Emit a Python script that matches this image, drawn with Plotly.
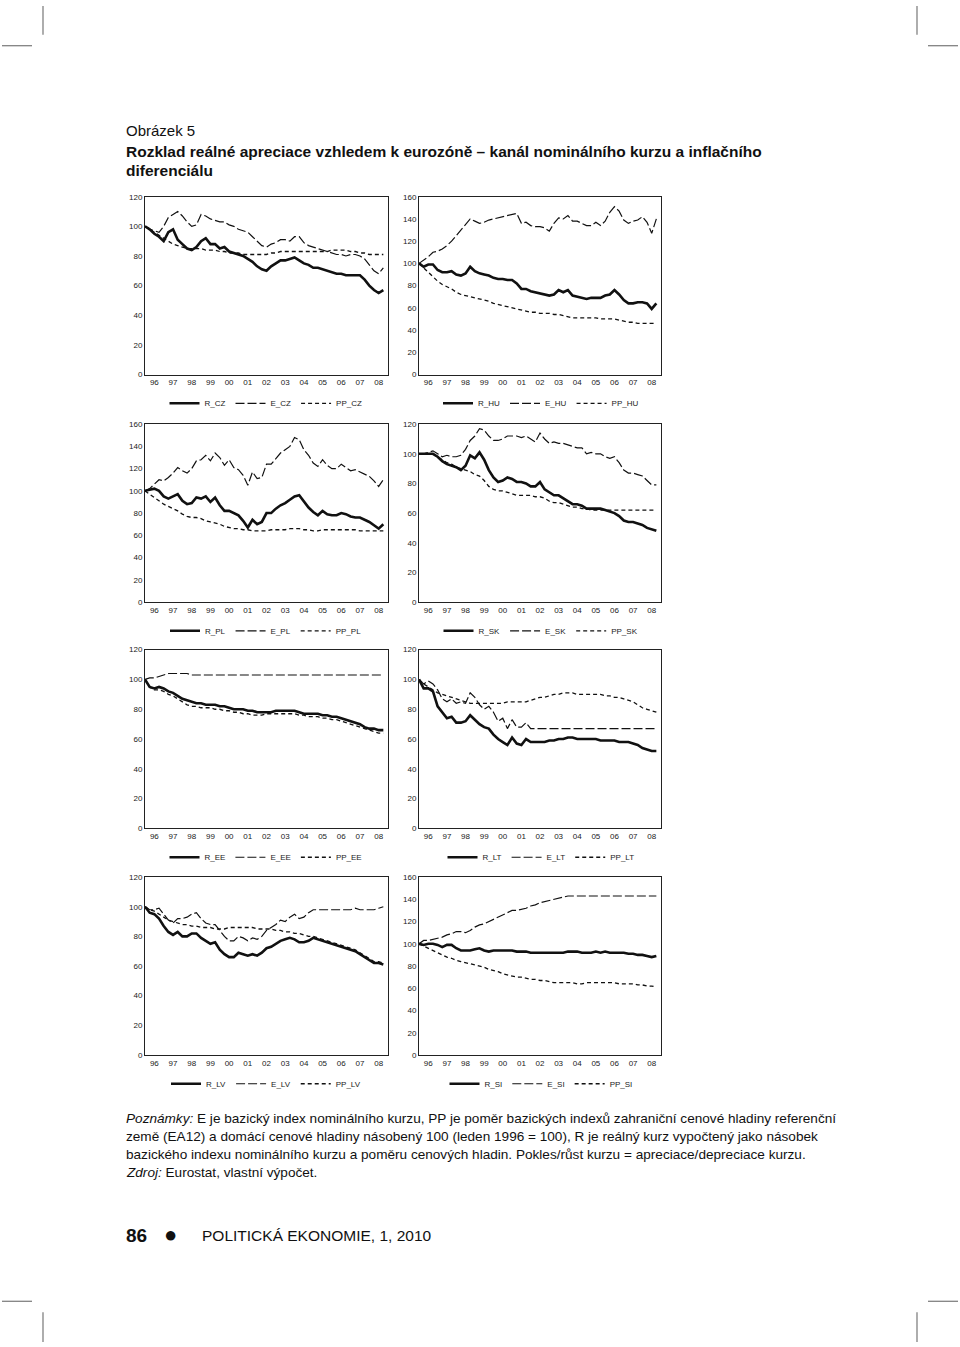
import plotly.graph_objects as go

# ---------------- data (quarterly readings, Jan 1996 .. Oct 2008) ----------------
YEAR_LABELS = ["96", "97", "98", "99", "00", "01", "02", "03", "04", "05", "06", "07", "08"]
YEARS = list(range(1996, 2009))
QUARTERS = [y + q / 4 for y in YEARS for q in range(4)]

CZ_R = [100, 98, 95, 93, 90, 96, 98, 91, 88, 85, 84, 86, 90, 92, 88, 88, 85, 86, 83, 82, 81, 80, 78, 76, 73, 71,
        70, 73, 75, 77, 77, 78, 79, 77, 75, 74, 72, 72, 71, 70, 69, 68, 68, 67, 67, 67, 67, 64, 60, 57, 55, 57]
CZ_E = [100, 98, 97, 96, 100, 106, 108, 110, 107, 103, 100, 101, 108, 107, 105, 104, 103, 103, 101, 100, 98, 97,
        96, 93, 90, 87, 86, 88, 89, 91, 91, 90, 93, 93, 89, 87, 86, 85, 84, 83, 82, 81, 81, 80, 81, 81, 80, 78,
        74, 70, 68, 72]
CZ_PP = [100, 98, 96, 94, 92, 90, 88, 87, 86, 85, 85, 85, 85, 84, 84, 84, 83, 83, 82, 82, 82, 81, 81, 81, 81, 81,
         81, 82, 82, 83, 83, 83, 83, 83, 83, 83, 83, 83, 83, 83, 84, 84, 84, 84, 83, 83, 82, 82, 81, 81, 81, 81]

HU_R = [100, 97, 99, 99, 94, 92, 92, 93, 90, 89, 91, 97, 93, 91, 90, 89, 87, 86, 86, 85, 85, 82, 77, 77, 75, 74,
        73, 72, 71, 72, 76, 74, 76, 71, 70, 69, 68, 69, 69, 69, 71, 72, 76, 72, 67, 64, 64, 65, 65, 64, 59, 64]
HU_E = [100, 103, 106, 110, 111, 113, 116, 120, 125, 130, 136, 140, 138, 136, 137, 139, 140, 141, 142, 143, 144,
        145, 136, 137, 134, 133, 133, 132, 129, 136, 141, 140, 143, 138, 138, 136, 134, 134, 137, 134, 138, 146,
        151, 147, 139, 136, 138, 139, 142, 137, 127, 140]
HU_PP = [100, 96, 92, 88, 84, 81, 79, 77, 74, 72, 71, 70, 69, 68, 67, 66, 64, 63, 62, 61, 60, 59, 58, 57, 56, 56,
         55, 55, 55, 54, 54, 53, 52, 51, 51, 51, 51, 51, 51, 50, 50, 50, 50, 49, 48, 47, 47, 46, 46, 46, 46, 46]

PL_R = [100, 101, 102, 100, 95, 93, 95, 97, 91, 88, 89, 94, 93, 95, 90, 94, 87, 82, 82, 80, 78, 73, 67, 74, 70, 72,
        80, 80, 84, 87, 89, 92, 95, 96, 90, 85, 81, 78, 82, 79, 78, 78, 80, 79, 77, 76, 76, 74, 72, 69, 66, 70]
PL_E = [100, 102, 106, 110, 109, 112, 116, 121, 118, 116, 120, 127, 128, 132, 127, 134, 130, 123, 128, 121, 119,
        114, 105, 117, 111, 112, 124, 124, 129, 134, 137, 140, 148, 146, 137, 132, 125, 122, 128, 123, 120, 120,
        124, 121, 118, 119, 117, 115, 113, 109, 104, 110]
PL_PP = [100, 97, 94, 91, 88, 86, 84, 82, 79, 77, 76, 76, 75, 73, 72, 71, 70, 68, 67, 66, 66, 65, 65, 64, 64, 64,
         64, 65, 65, 65, 65, 66, 66, 66, 65, 65, 64, 64, 65, 65, 65, 65, 65, 65, 65, 65, 64, 64, 64, 64, 64, 64]

SK_R = [100, 100, 100, 100, 98, 95, 93, 92, 91, 89, 92, 99, 97, 101, 96, 89, 84, 81, 82, 84, 83, 81, 81, 80, 78,
        78, 81, 76, 74, 72, 72, 70, 68, 66, 66, 65, 63, 63, 63, 63, 62, 61, 60, 58, 55, 54, 54, 53, 52, 50, 49, 48]
SK_E = [100, 100, 101, 102, 100, 98, 99, 98, 98, 99, 103, 109, 112, 117, 116, 112, 109, 109, 110, 112, 112, 112,
        111, 112, 110, 108, 114, 110, 107, 108, 107, 107, 106, 105, 104, 104, 100, 101, 100, 100, 98, 97, 98, 94,
        89, 87, 87, 86, 85, 82, 79, 79]
SK_PP = [100, 100, 100, 100, 98, 96, 94, 93, 91, 90, 89, 88, 86, 85, 82, 78, 76, 75, 75, 74, 73, 72, 72, 72, 72,
         71, 71, 70, 68, 67, 67, 66, 65, 64, 64, 63, 63, 62, 62, 62, 62, 62, 62, 62, 62, 62, 62, 62, 62, 62, 62, 62]

EE_R = [100, 95, 94, 95, 94, 92, 91, 89, 87, 86, 85, 84, 84, 83, 83, 83, 82, 82, 81, 80, 80, 80, 79, 79, 78, 78,
        78, 78, 79, 79, 79, 79, 79, 78, 77, 77, 77, 77, 76, 76, 75, 75, 74, 73, 72, 71, 70, 68, 67, 67, 66, 66]
EE_E = [100, 101, 101, 102, 103, 104, 104, 104, 104, 104, 103, 103, 103, 103, 103, 103, 103, 103, 103, 103, 103,
        103, 103, 103, 103, 103, 103, 103, 103, 103, 103, 103, 103, 103, 103, 103, 103, 103, 103, 103, 103, 103,
        103, 103, 103, 103, 103, 103, 103, 103, 103, 103]
EE_PP = [100, 95, 93, 93, 92, 90, 89, 87, 85, 83, 82, 82, 81, 81, 81, 80, 80, 79, 79, 78, 78, 77, 77, 76, 76, 76,
         77, 77, 77, 77, 77, 77, 77, 76, 76, 75, 75, 75, 74, 74, 73, 73, 72, 71, 70, 69, 68, 67, 66, 65, 64, 64]

LT_R = [100, 94, 94, 92, 82, 78, 74, 75, 71, 71, 72, 76, 73, 70, 68, 67, 63, 60, 58, 56, 61, 57, 56, 60, 58, 58,
        58, 58, 59, 59, 60, 60, 61, 61, 60, 60, 60, 60, 60, 59, 59, 59, 59, 58, 58, 58, 57, 56, 54, 53, 52, 52]
LT_E = [100, 97, 99, 97, 93, 87, 85, 87, 84, 85, 84, 91, 88, 83, 80, 82, 78, 72, 74, 67, 73, 68, 68, 71, 67, 67,
        67, 67, 67, 67, 67, 67, 67, 67, 67, 67, 67, 67, 67, 67, 67, 67, 67, 67, 67, 67, 67, 67, 67, 67, 67, 67]
LT_PP = [100, 97, 95, 93, 91, 90, 89, 88, 87, 86, 85, 84, 84, 84, 84, 84, 84, 84, 84, 85, 85, 85, 85, 85, 86, 87,
         88, 88, 89, 90, 90, 91, 91, 91, 90, 90, 90, 90, 90, 90, 89, 89, 88, 88, 87, 86, 85, 83, 81, 80, 79, 78]

LV_R = [100, 96, 95, 92, 87, 83, 81, 83, 80, 80, 82, 82, 79, 77, 75, 76, 71, 68, 66, 66, 69, 68, 67, 68, 67, 69,
        72, 73, 75, 77, 78, 79, 78, 76, 76, 77, 79, 78, 77, 76, 75, 74, 73, 72, 71, 70, 68, 66, 64, 62, 62, 61]
LV_E = [100, 98, 98, 99, 95, 91, 89, 92, 92, 93, 95, 96, 92, 89, 88, 88, 84, 80, 77, 77, 80, 79, 77, 79, 78, 80,
        84, 86, 88, 91, 90, 93, 95, 92, 93, 96, 98, 98, 98, 98, 98, 98, 98, 98, 98, 99, 98, 98, 98, 98, 99, 100]
LV_PP = [100, 98, 97, 95, 93, 91, 90, 89, 88, 88, 87, 87, 86, 86, 86, 85, 85, 85, 86, 86, 86, 86, 86, 86, 85, 85,
         85, 85, 84, 84, 83, 83, 82, 82, 81, 80, 80, 79, 78, 77, 76, 75, 74, 73, 72, 71, 69, 67, 65, 63, 63, 62]

SI_R = [100, 99, 100, 100, 99, 97, 99, 99, 96, 94, 94, 94, 95, 96, 94, 93, 94, 94, 94, 94, 94, 93, 93, 93, 92, 92,
        92, 92, 92, 92, 92, 92, 93, 93, 93, 92, 92, 92, 93, 92, 93, 92, 92, 92, 92, 91, 91, 90, 90, 89, 88, 89]
SI_E = [100, 103, 103, 104, 105, 106, 108, 109, 111, 111, 110, 112, 115, 117, 118, 120, 122, 124, 126, 128, 130,
        130, 131, 132, 134, 135, 137, 138, 139, 140, 141, 142, 143, 143, 143, 143, 143, 143, 143, 143, 143, 143,
        143, 143, 143, 143, 143, 143, 143, 143, 143, 143]
SI_PP = [100, 98, 96, 94, 92, 90, 88, 87, 85, 84, 83, 82, 81, 80, 79, 77, 76, 75, 73, 72, 71, 70, 70, 69, 68, 68,
         67, 67, 66, 65, 65, 65, 65, 65, 64, 64, 65, 65, 65, 65, 65, 65, 65, 64, 64, 64, 64, 63, 63, 62, 62, 61]

COUNTRIES = ["CZ", "HU", "PL", "SK", "EE", "LT", "LV", "SI"]
SERIES = {
    "CZ": (CZ_R, CZ_E, CZ_PP), "HU": (HU_R, HU_E, HU_PP),
    "PL": (PL_R, PL_E, PL_PP), "SK": (SK_R, SK_E, SK_PP),
    "EE": (EE_R, EE_E, EE_PP), "LT": (LT_R, LT_E, LT_PP),
    "LV": (LV_R, LV_E, LV_PP), "SI": (SI_R, SI_E, SI_PP),
}
Y_MAX = {"CZ": 120, "HU": 160, "PL": 160, "SK": 120, "EE": 120, "LT": 120, "LV": 120, "SI": 160}

# ---------------- layout geometry (page pixels) ----------------
W, H = 960, 1347
COLS = [(145, 388), (419, 661)]
ROWS = [(194, 373), (423, 602), (650, 830), (879, 1058)]
LEGEND_CX = [266, 541]
LEGEND_DY = 29


def px(x):
    return x / W


def py(y):
    return 1 - y / H


fig = go.Figure()
layout = dict(
    width=W, height=H, margin=dict(l=0, r=0, t=0, b=0),
    paper_bgcolor="white", plot_bgcolor="white",
    font=dict(family="Liberation Sans, Arial, sans-serif", color="#111"),
    showlegend=True,
)

styles = [
    dict(width=2.6, dash="solid"),
    dict(width=1.2, dash="9px,3px"),
    dict(width=1.3, dash="4px,3px"),
]
prefixes = ["R", "E", "PP"]

for i, c in enumerate(COUNTRIES):
    n = i + 1
    row, col = divmod(i, 2)
    x0, x1 = COLS[col]
    y0, y1 = ROWS[row]
    xa = "xaxis" if n == 1 else f"xaxis{n}"
    ya = "yaxis" if n == 1 else f"yaxis{n}"
    lg = "legend" if n == 1 else f"legend{n}"
    layout[xa] = dict(
        domain=[px(x0), px(x1)], anchor=f"y{n}" if n > 1 else "y",
        range=[1996, 2009], tickvals=[y + 0.5 for y in YEARS], ticktext=YEAR_LABELS,
        showgrid=False, zeroline=False, ticks="", showline=True, mirror=True,
        linecolor="#222", linewidth=1, tickfont=dict(size=8, color="#222"),
    )
    layout[ya] = dict(
        domain=[py(y1), py(y0)], anchor=f"x{n}" if n > 1 else "x",
        range=[0, Y_MAX[c]], dtick=20,
        showgrid=False, zeroline=False, ticks="", showline=True, mirror=True,
        linecolor="#222", linewidth=1, tickfont=dict(size=8, color="#222"),
    )
    layout[lg] = dict(
        x=px(LEGEND_CX[col]), y=py(y1 + LEGEND_DY), xanchor="center", yanchor="middle",
        orientation="h", font=dict(size=8, color="#222"), bgcolor="rgba(0,0,0,0)",
        itemwidth=30, tracegroupgap=0,
    )
    for s, vals, st in zip(prefixes, SERIES[c], styles):
        fig.add_trace(go.Scatter(
            x=QUARTERS, y=vals, mode="lines", name=f"{s}_{c}",
            line=dict(color="#111", **st),
            xaxis=f"x{n}" if n > 1 else "x", yaxis=f"y{n}" if n > 1 else "y",
            legend=lg, hoverinfo="skip",
        ))

ann = []
TX = 124
ann.append(dict(text="Obrázek 5", x=px(TX), y=py(127), xref="paper", yref="paper",
                xanchor="left", yanchor="middle", showarrow=False, font=dict(size=15, color="#111")))
ann.append(dict(text="<b>Rozklad reálné apreciace vzhledem k eurozóně – kanál nominálního kurzu a inflačního</b>",
                x=px(TX), y=py(148), xref="paper", yref="paper",
                xanchor="left", yanchor="middle", showarrow=False, font=dict(size=15.5, color="#111")))
ann.append(dict(text="<b>diferenciálu</b>", x=px(TX), y=py(168), xref="paper", yref="paper",
                xanchor="left", yanchor="middle", showarrow=False, font=dict(size=15.5, color="#111")))

notes = [
    "<i>Poznámky:</i> E je bazický index nominálního kurzu, PP je poměr bazických indexů zahraniční cenové hladiny referenční",
    "země (EA12) a domácí cenové hladiny násobený 100 (leden 1996 = 100), R je reálný kurz vypočtený jako násobek",
    "bazického indexu nominálního kurzu a poměru cenových hladin. Pokles/růst kurzu = apreciace/depreciace kurzu.",
    "<i>Zdroj:</i> Eurostat, vlastní výpočet.",
]
for k, t in enumerate(notes):
    ann.append(dict(text=t, x=px(TX), y=py(1122 + 18 * k), xref="paper", yref="paper",
                    xanchor="left", yanchor="middle", showarrow=False,
                    font=dict(size=13.6, family="Liberation Sans, Arial, sans-serif", color="#111")))

ann.append(dict(text="<b>86</b>", x=px(TX), y=py(1240), xref="paper", yref="paper",
                xanchor="left", yanchor="middle", showarrow=False, font=dict(size=19, color="#111")))
ann.append(dict(text="●", x=px(170), y=py(1239), xref="paper", yref="paper",
                xanchor="center", yanchor="middle", showarrow=False, font=dict(size=22, color="#111")))
ann.append(dict(text="POLITICKÁ EKONOMIE, 1, 2010", x=px(200), y=py(1240), xref="paper", yref="paper",
                xanchor="left", yanchor="middle", showarrow=False, font=dict(size=15.5, color="#111")))
layout["annotations"] = ann

# crop marks
marks = []
for (xa_, ya_, xb_, yb_) in [(43, 2, 43, 31), (917, 2, 917, 31), (2, 42, 32, 42), (928, 42, 958, 42),
                             (43, 1317, 43, 1347), (917, 1317, 917, 1347), (2, 1306, 32, 1306),
                             (928, 1306, 958, 1306)]:
    marks.append(dict(type="line", xref="paper", yref="paper", x0=px(xa_), y0=py(ya_), x1=px(xb_), y1=py(yb_),
                      line=dict(color="#777", width=1.2)))
layout["shapes"] = marks

fig.update_layout(**layout)
fig.write_html("out.html")
